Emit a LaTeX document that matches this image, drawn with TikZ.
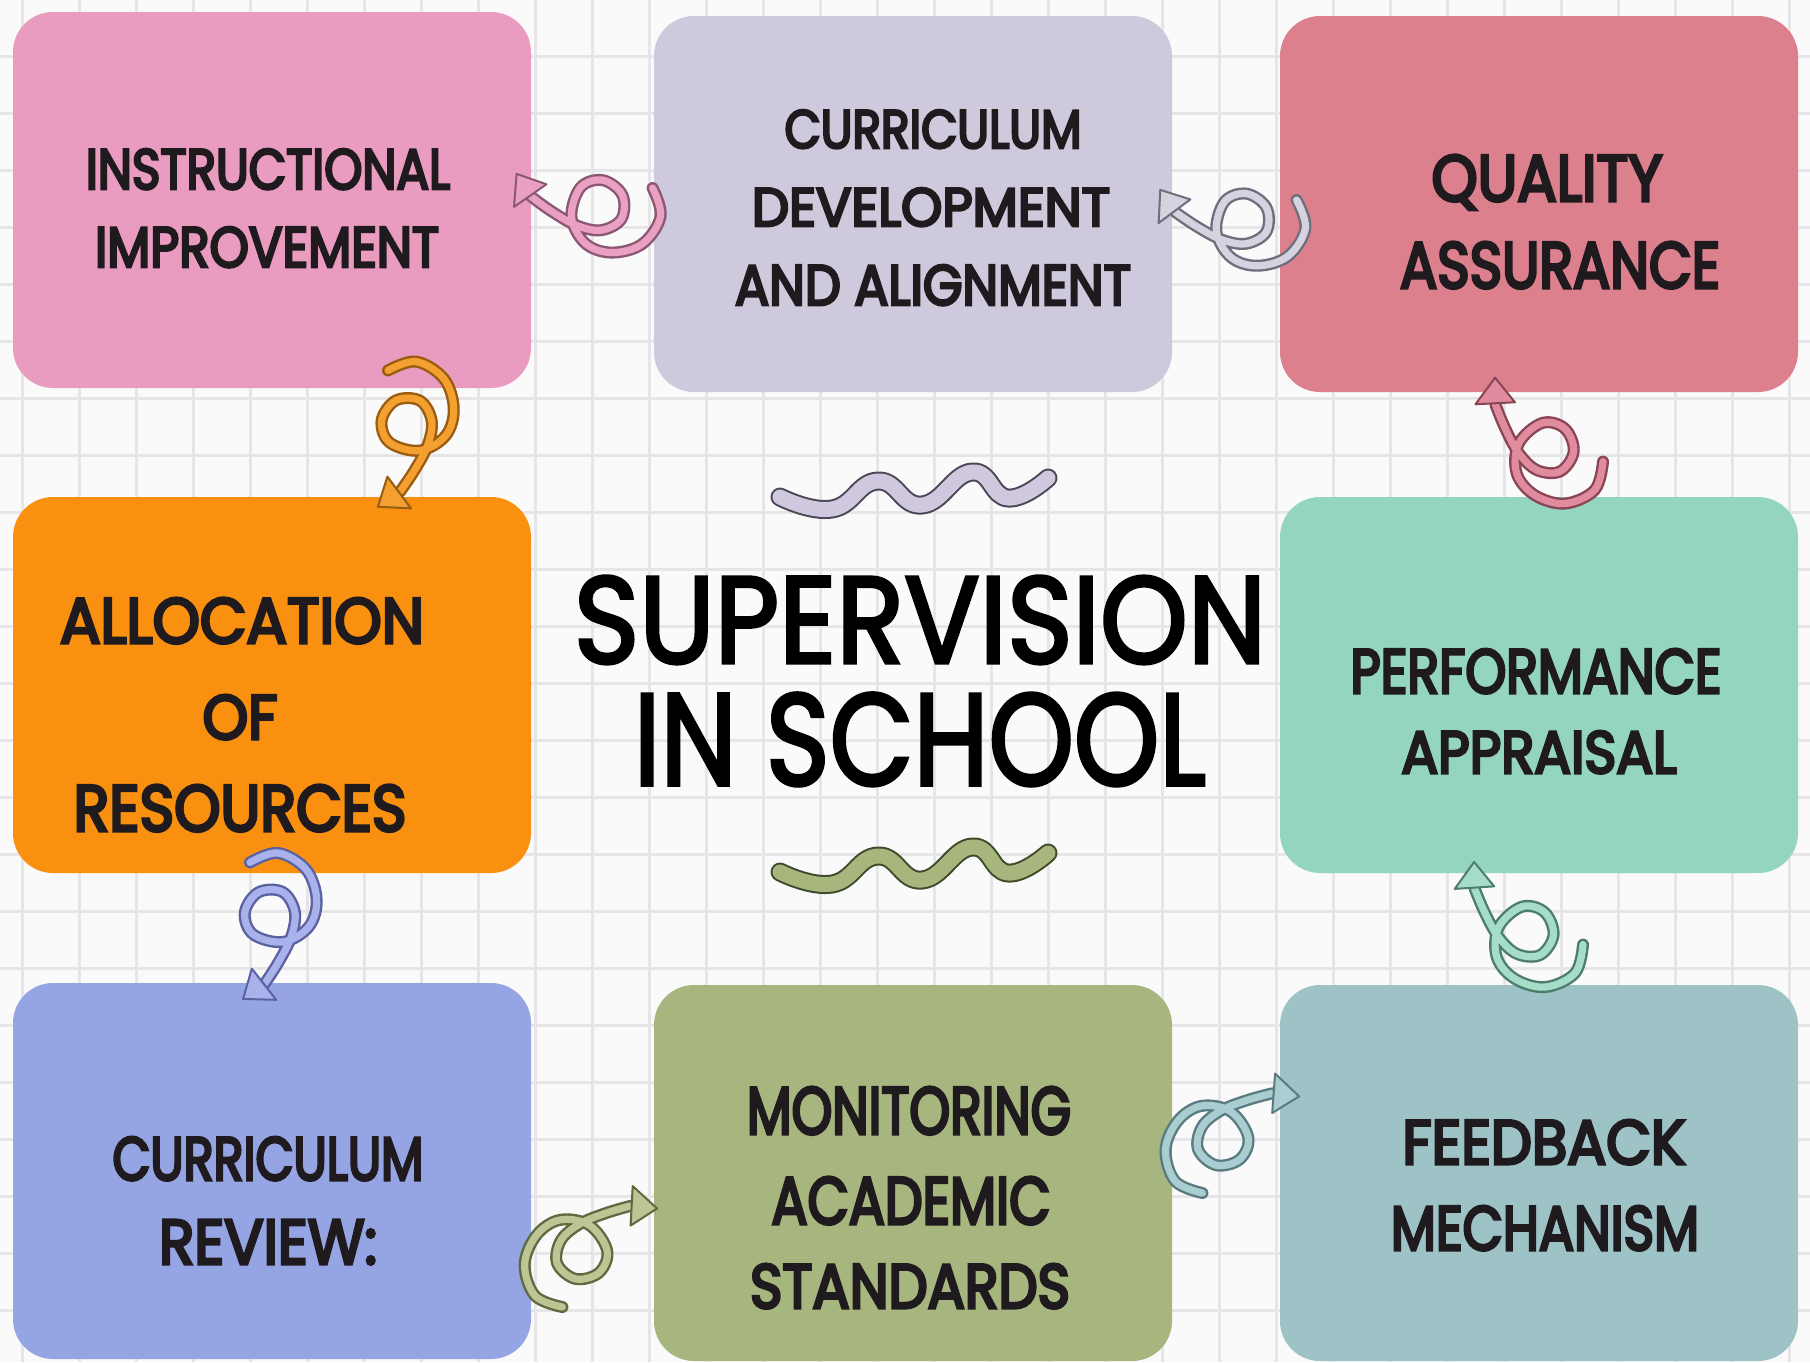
\documentclass[tikz,border=0pt]{standalone}
\usepackage{fontspec}
\setmainfont{Poppins}
\newfontfamily\boxfont{Poppins}[FakeBold=5]
\newfontfamily\titlefont{Poppins}[FakeBold=2.8]
\usetikzlibrary{calc}
\definecolor{bgc}{HTML}{FAFAFA}
\definecolor{gridc}{HTML}{E6E6E9}
\definecolor{ink}{HTML}{1F1A1E}
\definecolor{pinkbox}{HTML}{E99BC0}
\definecolor{lavbox}{HTML}{CFC9DD}
\definecolor{rosebox}{HTML}{DC808D}
\definecolor{orangebox}{HTML}{F99010}
\definecolor{mintbox}{HTML}{93D5BE}
\definecolor{perbox}{HTML}{95A4E3}
\definecolor{olivebox}{HTML}{A7B67E}
\definecolor{tealbox}{HTML}{9DC3C7}
\definecolor{aPinkF}{HTML}{E9A0C2}\definecolor{aPinkE}{HTML}{8B5872}
\definecolor{aGreyF}{HTML}{D5D3E0}\definecolor{aGreyE}{HTML}{6F6E7C}
\definecolor{aOrF}{HTML}{F4A030}\definecolor{aOrE}{HTML}{9A5C10}
\definecolor{aRoseF}{HTML}{E08C9E}\definecolor{aRoseE}{HTML}{8A4556}
\definecolor{aPerF}{HTML}{A9B2EA}\definecolor{aPerE}{HTML}{5A62A2}
\definecolor{aSageF}{HTML}{BCC593}\definecolor{aSageE}{HTML}{5F6A40}
\definecolor{aTealF}{HTML}{AACDD1}\definecolor{aTealE}{HTML}{587C80}
\definecolor{aMintF}{HTML}{A6DDC8}\definecolor{aMintE}{HTML}{4D7D6C}
\definecolor{waveLav}{HTML}{CFC8DF}\definecolor{waveLavE}{HTML}{4A4656}
\definecolor{waveGrn}{HTML}{A7B67C}\definecolor{waveGrnE}{HTML}{3E4A2A}
\tikzset{
  box/.style={rounded corners=20pt, minimum width=259pt, minimum height=188pt, inner sep=0pt, draw=none},
  lbl/.style={anchor=base, inner sep=0pt, text=ink, font=\boxfont},
  ttl/.style={anchor=base, inner sep=0pt, text=black, font=\titlefont},
  gridline/.style={draw=gridc, line width=1.5pt},
  curly/.style 2 args={draw=#2, double=#1, double distance=3.6pt, line width=1.2pt, line cap=round, line join=round},
  wave/.style 2 args={draw=#2, double=#1, double distance=7.5pt, line width=1pt, line cap=round, line join=round},
}
\newcommand\fitw[3]{\resizebox{#1pt}{#2pt}{#3}}
\newcommand\curlyarrow[4]{%
  \pgfmathanglebetweenpoints{\pgfpointanchor{#1}{center}}{\pgfpointanchor{#2}{center}}%
  \pgfmathsetmacro\curlyang{\pgfmathresult+3}%
  \begin{scope}[shift={(#1)}, rotate=\curlyang, x=0.5pt, y=0.5pt]
    \draw[curly={#3}{#4}] plot[smooth, tension=0.6] coordinates {(0,0) (-9,28) (8,56) (38,66) (65,58) (80,32) (72,2) (50,-6) (30,8) (30,32) (50,44) (75,40) (100,27) (121,13)};
    \filldraw[fill=#3, draw=#4, line width=1pt, line join=round] (136.4,-9.2) -- (137.8,23.9) -- (106.2,0.1) -- cycle;
  \end{scope}}
\begin{document}
\begin{tikzpicture}[x=0.5pt, y=-0.5pt]
\useasboundingbox (0,0) rectangle (1810,1362);
\fill[bgc] (0,0) rectangle (1810,1362);
\foreach \i in {0,...,31} \draw[gridline] ({22+57*\i},0) -- ({22+57*\i},1362);
\foreach \j in {1,...,23} \draw[gridline] (0,{-1+57*\j}) -- (1810,{-1+57*\j});

% boxes
\node[box, fill=pinkbox]   (b1) at (272,200) {};
\node[box, fill=lavbox]    (b2) at (913,204) {};
\node[box, fill=rosebox]   (b3) at (1539,204) {};
\node[box, fill=orangebox] (b4) at (272,685) {};
\node[box, fill=mintbox]   (b5) at (1539,685) {};
\node[box, fill=perbox]    (b6) at (272,1171) {};
\node[box, fill=olivebox]  (b7) at (913,1173) {};
\node[box, fill=tealbox]   (b8) at (1539,1173) {};

% labels
\node[lbl] (b1a) at (268,189) {\fitw{182}{20}{INSTRUCTIONAL}};
\node[lbl] (b1b) at (267,267) {\fitw{172}{20}{IMPROVEMENT}};
\node[lbl] (b2a) at (933,148) {\fitw{148.5}{19}{CURRICULUM}};
\node[lbl] (b2b) at (931,226) {\fitw{179}{19}{DEVELOPMENT}};
\node[lbl] (b2c) at (933,305) {\fitw{198}{20}{AND ALIGNMENT}};
\node[lbl] (b3a) at (1547,201) {\fitw{115.5}{23}{QUALITY}};
\node[lbl] (b3b) at (1560,288) {\fitw{160}{23}{ASSURANCE}};
\node[lbl] (b4a) at (242,643) {\fitw{182}{22.5}{ALLOCATION}};
\node[lbl] (b4b) at (240,739) {\fitw{37.5}{22}{OF}};
\node[lbl] (b4c) at (240,831) {\fitw{166.5}{23}{RESOURCES}};
\node[lbl] (b5a) at (1536,693) {\fitw{185.5}{22}{PERFORMANCE}};
\node[lbl] (b5b) at (1539,773) {\fitw{137.5}{21}{APPRAISAL}};
\node[lbl] (b6a) at (268,1180) {\fitw{155.5}{21.5}{CURRICULUM}};
\node[lbl] (b6b) at (268,1264) {\fitw{109}{22}{REVIEW:}};
\node[lbl] (b7a) at (909,1134) {\fitw{162}{23.5}{MONITORING}};
\node[lbl] (b7b) at (911,1224) {\fitw{139.5}{23.5}{ACADEMIC}};
\node[lbl] (b7c) at (910,1308) {\fitw{160}{22}{STANDARDS}};
\node[lbl] (b8a) at (1544,1164) {\fitw{141.5}{22}{FEEDBACK}};
\node[lbl] (b8b) at (1545,1250) {\fitw{154}{22}{MECHANISM}};

% title
\node[ttl] (t1) at (920,663) {\fitw{346}{43.5}{SUPERVISION}};
\node[ttl] (t2) at (920,785) {\fitw{286}{46}{IN SCHOOL}};

% waves
\draw[wave={waveLav}{waveLavE}] plot[smooth, tension=0.8] coordinates {(780,497) (832,509) (878,481) (922,505) (972,472) (1008,498) (1048,478)};
\draw[wave={waveGrn}{waveGrnE}] plot[smooth, tension=0.8] coordinates {(780,872) (832,884) (878,856) (922,880) (972,847) (1008,873) (1048,853)};

% connector end points
\coordinate (aT) at ($(b2.west)+(-1,-16)$);
\coordinate (aP) at ($(b1.east)+(-14,-24)$);
\coordinate (bT) at ($(b3.west)+(17,-4)$);
\coordinate (bP) at ($(b2.east)+(-11,-12)$);
\coordinate (cT) at ($(b1.south)+(116,-18)$);
\coordinate (cP) at ($(b4.north)+(108,9)$);
\coordinate (dT) at ($(b5.north)+(64,-35)$);
\coordinate (dP) at ($(b3.south)+(-41,-10)$);
\coordinate (eT) at ($(b4.south)+(-22,-11)$);
\coordinate (eP) at ($(b6.north)+(-27,19)$);
\coordinate (fT) at ($(b6.east)+(31,136)$);
\coordinate (fP) at ($(b7.west)+(3,33)$);
\coordinate (gT) at ($(b7.east)+(30,20)$);
\coordinate (gP) at ($(b8.west)+(16,-76)$);
\coordinate (hT) at ($(b8.north)+(44,-40)$);
\coordinate (hP) at ($(b5.south)+(-61,-6)$);

\curlyarrow{aT}{aP}{aPinkF}{aPinkE}
\curlyarrow{bT}{bP}{aGreyF}{aGreyE}
\curlyarrow{cT}{cP}{aOrF}{aOrE}
\curlyarrow{dT}{dP}{aRoseF}{aRoseE}
\curlyarrow{eT}{eP}{aPerF}{aPerE}
\curlyarrow{fT}{fP}{aSageF}{aSageE}
\curlyarrow{gT}{gP}{aTealF}{aTealE}
\curlyarrow{hT}{hP}{aMintF}{aMintE}
\end{tikzpicture}
\end{document}
